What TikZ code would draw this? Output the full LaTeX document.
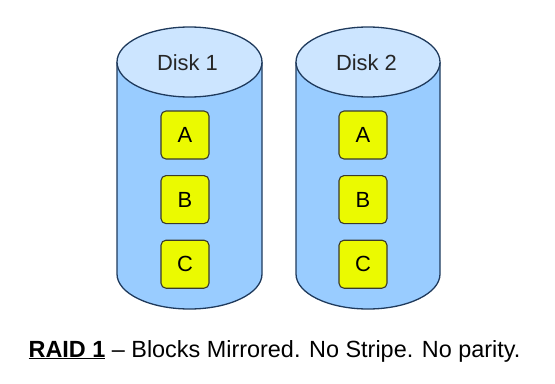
\documentclass[tikz,border=0pt]{standalone}
\usepackage{fontspec}
\setmainfont{Liberation Sans}
\usetikzlibrary{positioning}

\definecolor{diskline}{HTML}{1F3A5C}
\definecolor{diskbody}{HTML}{99CCFF}
\definecolor{disktop}{HTML}{CCE5FF}
\definecolor{blockfill}{HTML}{EBFA00}
\definecolor{blockline}{HTML}{3A3A2A}

\begin{document}
\begin{tikzpicture}[x=1bp, y=1bp, line width=1.3bp,
  disk/.style={draw=diskline, fill=diskbody},
  disklid/.style={draw=diskline, fill=disktop},
  disklabel/.style={font=\fontsize{22}{26}\selectfont, text=black!85},
  blockbox/.style={draw=blockline, fill=blockfill, line width=1.1bp, rounded corners=5bp,
    minimum size=48bp, inner sep=0pt, font=\fontsize{22}{26}\selectfont}]
  \useasboundingbox (0,0) rectangle (555,383);
  % Disk 1
  \draw[disk] (117,321) -- (117,109) arc (180:360:72.5 and 35) -- (262,321);
  \draw[disklid] (189.5,321) ellipse (72.5 and 35);
  \node[disklabel] (disk1) at (187.5,320) {Disk 1};
  \node[blockbox] (a1) at (185,248) {A};
  \node[blockbox, below=15.5bp of a1] (b1) {B};
  \node[blockbox, below=15.5bp of b1] (c1) {C};
  % Disk 2
  \draw[disk] (296,321) -- (296,109) arc (180:360:72 and 35) -- (440,321);
  \draw[disklid] (368,321) ellipse (72 and 35);
  \node[disklabel] (disk2) at (366.5,320) {Disk 2};
  \node[blockbox] (a2) at (363,248) {A};
  \node[blockbox, below=15.5bp of a2] (b2) {B};
  \node[blockbox, below=15.5bp of b2] (c2) {C};
  % caption
  \node[anchor=base west, inner sep=0pt, font=\fontsize{23.5}{28}\selectfont] (caption) at (28,26)
    {\underline{\textbf{RAID 1}} -- Blocks Mirrored. No Stripe. No parity.};
\end{tikzpicture}
\end{document}
